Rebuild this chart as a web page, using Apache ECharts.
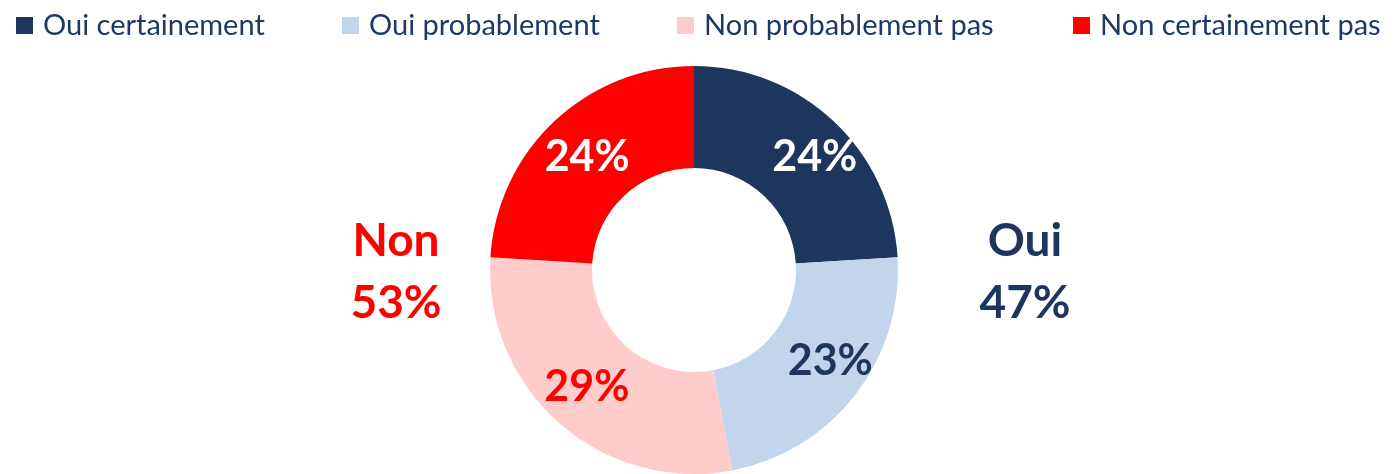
<!DOCTYPE html>
<html>
<head>
<meta charset="utf-8">
<script src="https://cdn.jsdelivr.net/npm/echarts@6/dist/echarts.min.js"></script>
<style>
html,body{margin:0;padding:0;background:#fff;}
#chart{width:1395px;height:474px;}
</style>
</head>
<body>
<div id="chart"></div>
<script>
const categories = ['Oui certainement', 'Oui probablement', 'Non probablement pas', 'Non certainement pas'];
const values = [24, 23, 29, 24];
const colors = ['#1C365E', '#C3D5EC', '#FFCCCC', '#FF0000'];
const labelColors = ['#FFFFFF', '#1C365E', '#FF0000', '#FFFFFF'];
const labelOffsets = [[14, 1], [13, -4], [-4, 0], [0, 1]];
const legendLefts = [16, 342, 677, 1073];
const groupNames = ['Oui', 'Non'];

const ouiTotal = values[0] + values[1];
const nonTotal = values[2] + values[3];
const FONT = 'Lato, "Open Sans", sans-serif';

const chart = echarts.init(document.getElementById('chart'), null, {renderer: 'canvas'});

const legends = categories.map((name, i) => ({
  data: [name],
  left: legendLefts[i],
  top: 11,
  orient: 'horizontal',
  icon: 'rect',
  itemWidth: 17,
  itemHeight: 17,
  selectedMode: false,
  padding: 0,
  textStyle: {fontFamily: FONT, fontSize: 29, color: '#1F3864', padding: [0, 0, 0, 5]}
}));

chart.setOption({
  animation: false,
  color: colors,
  legend: legends,
  series: [{
    type: 'pie',
    center: [694, 270],
    radius: [102, 204],
    startAngle: 90,
    clockwise: true,
    avoidLabelOverlap: false,
    labelLine: {show: false},
    itemStyle: {borderWidth: 0},
    emphasis: {disabled: true},
    label: {
      show: true,
      position: 'inside',
      fontFamily: FONT,
      fontWeight: 'bold',
      fontSize: 43,
      formatter: p => p.value + '%'
    },
    data: categories.map((name, i) => ({
      name: name,
      value: values[i],
      itemStyle: {color: colors[i]},
      label: {color: labelColors[i], offset: labelOffsets[i]}
    }))
  }],
  graphic: [
    {
      type: 'text', x: 1025, y: 272,
      style: {text: groupNames[0] + '\n' + ouiTotal + '%', fill: '#1C365E', align: 'center', verticalAlign: 'middle',
        font: 'bold 46px Lato, sans-serif', lineHeight: 62}
    },
    {
      type: 'text', x: 396, y: 272,
      style: {text: groupNames[1] + '\n' + nonTotal + '%', fill: '#FF0000', align: 'center', verticalAlign: 'middle',
        font: 'bold 46px Lato, sans-serif', lineHeight: 62}
    }
  ]
});
</script>
</body>
</html>
